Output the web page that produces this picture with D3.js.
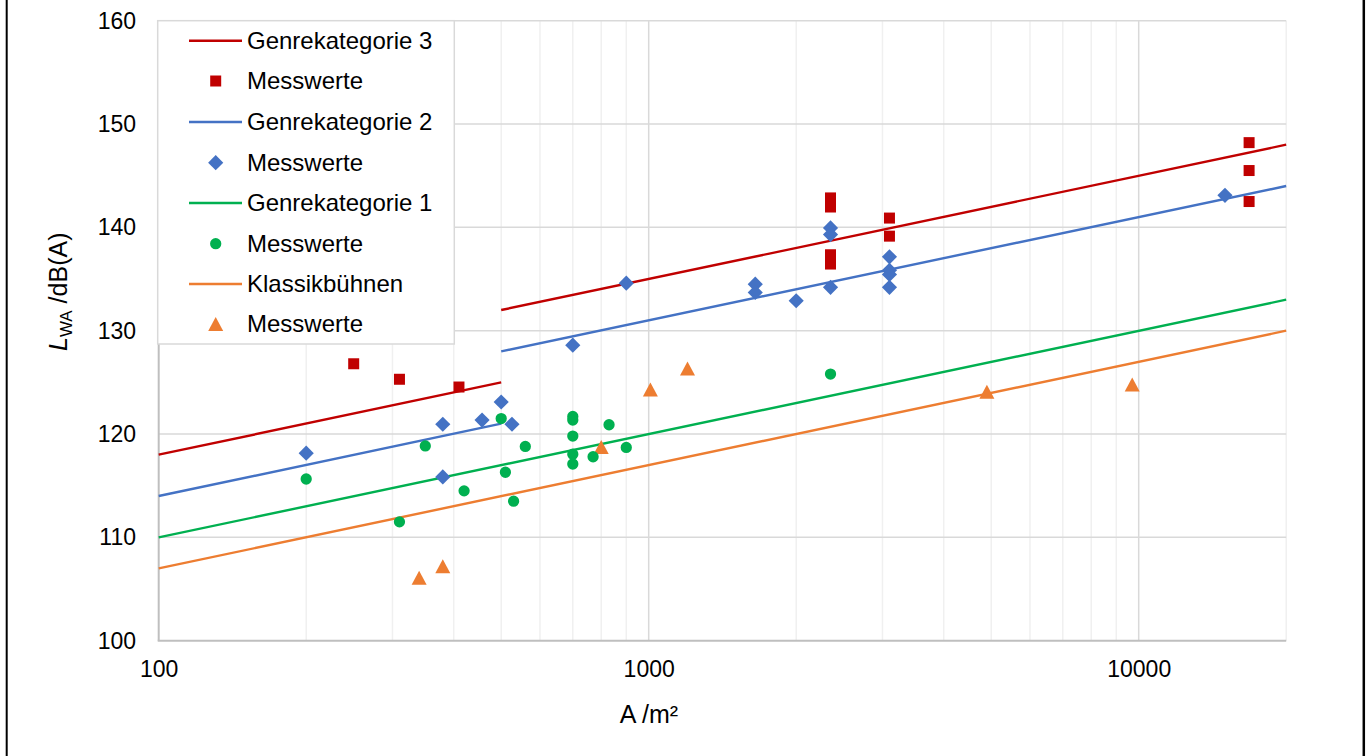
<!DOCTYPE html>
<html>
<head>
<meta charset="utf-8">
<script src="https://cdn.jsdelivr.net/npm/d3@7/dist/d3.min.js"></script>
<style>
  html, body { margin: 0; padding: 0; background: #fff; }
  svg { display: block; font-family: "Liberation Sans", Arial, sans-serif; }
</style>
</head>
<body>
<svg id="chart" width="1368" height="756"></svg>
<script>
// ---------- data ----------
const xTicks = [100, 1000, 10000];
const yTicks = [100, 110, 120, 130, 140, 150, 160];

// regression lines (segment endpoints [A, LWA])
const lineG3 = [[[100, 118], [500, 125]], [[500, 132], [20000, 148]]];
const lineG2 = [[[100, 114], [500, 121]], [[500, 128], [20000, 144]]];
const lineG1 = [[[100, 110], [20000, 133]]];
const lineKB = [[[100, 107], [20000, 130]]];

// measured values: area A (m²)
const g3A = [250, 310, 410, 2350, 2350, 2350, 2350, 3100, 3100, 16800, 16800, 16800];
const g3L = [126.8, 125.3, 124.55, 142.85, 141.97, 137.35, 136.45, 140.9, 139.15, 148.2, 145.5, 142.5];

const g2A = [200, 380, 380, 457, 500, 526, 700, 900, 1650, 1650, 2000, 2350, 2350, 2350, 3100, 3100, 3100, 3100, 15000];
const g2L = [118.15, 120.95, 115.85, 121.35, 123.1, 120.95, 128.6, 134.6, 134.5, 133.7, 132.9, 139.95, 139.3, 134.2, 137.15, 135.85, 135.45, 134.2, 143.1];

const g1A = [200, 310, 350, 420, 500, 510, 530, 560, 700, 700, 700, 700, 700, 770, 830, 900, 2350];
const g1L = [115.65, 111.5, 118.85, 114.5, 121.5, 116.3, 113.5, 118.8, 121.7, 121.35, 119.8, 118.05, 117.1, 117.8, 120.9, 118.7, 125.8];

const kbA = [340, 380, 800, 1008, 1200, 4900, 9700];
const kbL = [106.1, 107.2, 118.75, 124.3, 126.35, 124.1, 124.8];

const legendLabels = ["Genrekategorie 3", "Messwerte", "Genrekategorie 2", "Messwerte",
                      "Genrekategorie 1", "Messwerte", "Klassikbühnen", "Messwerte"];

// ---------- styles ----------
const C = { red: "#C00000", blue: "#4472C4", green: "#00B050", orange: "#ED7D31" };

const series = [
  { lines: lineG3, A: g3A, L: g3L, color: C.red, shape: "square" },
  { lines: lineG2, A: g2A, L: g2L, color: C.blue, shape: "diamond" },
  { lines: lineG1, A: g1A, L: g1L, color: C.green, shape: "circle" },
  { lines: lineKB, A: kbA, L: kbL, color: C.orange, shape: "triangle" }
];

const svg = d3.select("#chart");
const x = d3.scaleLog().domain([100, 20000]).range([158.7, 1286.2]);
const y = d3.scaleLinear().domain([100, 160]).range([640.7, 20.7]);

// outer border (left/right visible)
svg.append("line").attr("x1", 6.7).attr("x2", 6.7).attr("y1", 0).attr("y2", 756)
  .attr("stroke", "#000").attr("stroke-width", 2);
svg.append("line").attr("x1", 1363.8).attr("x2", 1363.8).attr("y1", 0).attr("y2", 756)
  .attr("stroke", "#000").attr("stroke-width", 2.5);

// minor vertical gridlines
const minor = [];
for (let d = 100; d < 20000; d *= 10) {
  for (let k = 2; k <= 9; k++) { const v = d * k; if (v <= 20000) minor.push(v); }
}
const grid = svg.append("g");
grid.selectAll("line.minor").data(minor).enter().append("line")
  .attr("x1", d => x(d)).attr("x2", d => x(d))
  .attr("y1", y(160)).attr("y2", y(100))
  .attr("stroke", "#f0f0f0").attr("stroke-width", 1.5);
grid.selectAll("line.majx").data([1000, 10000]).enter().append("line")
  .attr("x1", d => x(d)).attr("x2", d => x(d))
  .attr("y1", y(160)).attr("y2", y(100))
  .attr("stroke", "#d9d9d9").attr("stroke-width", 1.5);
grid.selectAll("line.majy").data(yTicks.filter(v => v > 100)).enter().append("line")
  .attr("x1", x(100)).attr("x2", x(20000))
  .attr("y1", d => y(d)).attr("y2", d => y(d))
  .attr("stroke", "#d9d9d9").attr("stroke-width", 1.5);

// axis lines
svg.append("line").attr("x1", x(100)).attr("x2", x(100)).attr("y1", y(160)).attr("y2", y(100))
  .attr("stroke", "#bfbfbf").attr("stroke-width", 2);
svg.append("line").attr("x1", x(100) - 1).attr("x2", x(20000)).attr("y1", y(100)).attr("y2", y(100))
  .attr("stroke", "#bfbfbf").attr("stroke-width", 2);

// axes text
const yAxis = d3.axisLeft(y).tickValues(yTicks).tickSize(0).tickPadding(22.7).tickFormat(d3.format("d"));
const gy = svg.append("g").attr("transform", `translate(${x(100)},0)`).call(yAxis);
gy.select(".domain").remove();
gy.selectAll("text").attr("font-size", 23).attr("fill", "#000").attr("font-family", "Liberation Sans, Arial, sans-serif");

const xAxis = d3.axisBottom(x).tickValues(xTicks).tickSize(0).tickPadding(20).tickFormat(d3.format("d"));
const gx = svg.append("g").attr("transform", `translate(0,${y(100)})`).call(xAxis);
gx.select(".domain").remove();
gx.selectAll("text").attr("font-size", 23).attr("fill", "#000").attr("font-family", "Liberation Sans, Arial, sans-serif");

// axis titles
svg.append("text").attr("x", 649).attr("y", 723).attr("text-anchor", "middle")
  .attr("font-size", 25).attr("fill", "#000").text("A /m²");

const yt = svg.append("text").attr("transform", "translate(67,351) rotate(-90)")
  .attr("text-anchor", "start").attr("font-size", 25).attr("fill", "#000");
yt.append("tspan").attr("font-style", "italic").text("L");
yt.append("tspan").attr("font-size", 17).attr("dy", 5).text("WA");
yt.append("tspan").attr("dy", -5).text(" /dB(A)");

// marker path generator
function markerPath(shape) {
  if (shape === "square") return d3.symbol(d3.symbolSquare, 121)();
  if (shape === "diamond") return d3.symbol(d3.symbolSquare, 115)();
  if (shape === "circle") return d3.symbol(d3.symbolCircle, 100)();
  return "M0,-7L7.5,7L-7.5,7Z";
}
function markerTransform(shape, px, py) {
  return shape === "diamond" ? `translate(${px},${py}) rotate(45)` : `translate(${px},${py})`;
}

// lines
const lineGen = d3.line().x(d => x(d[0])).y(d => y(d[1]));
const plot = svg.append("g");
series.slice().reverse().forEach(s => {
  s.lines.forEach(seg => {
    plot.append("path").attr("d", lineGen(seg)).attr("fill", "none")
      .attr("stroke", s.color).attr("stroke-width", 2.4);
  });
});
// markers
series.slice().reverse().forEach(s => {
  plot.selectAll(null).data(s.A.map((a, i) => [a, s.L[i]])).enter().append("path")
    .attr("d", markerPath(s.shape))
    .attr("transform", d => markerTransform(s.shape, x(d[0]), y(d[1])))
    .attr("fill", s.color);
});

// legend
const lg = svg.append("g");
lg.append("rect").attr("x", 157.7).attr("y", 20.7).attr("width", 296.6).attr("height", 323.3)
  .attr("fill", "#fff").attr("stroke", "#d9d9d9").attr("stroke-width", 1.5);
const rowY = [40.7, 81, 122, 162.7, 203, 243.7, 284, 324];
legendLabels.forEach((lab, i) => {
  const s = series[Math.floor(i / 2)];
  const ry = rowY[i];
  if (i % 2 === 0) {
    lg.append("line").attr("x1", 189).attr("x2", 242).attr("y1", ry).attr("y2", ry)
      .attr("stroke", s.color).attr("stroke-width", 2.4);
  } else {
    lg.append("path").attr("d", markerPath(s.shape))
      .attr("transform", markerTransform(s.shape, 215.7, ry)).attr("fill", s.color);
  }
  lg.append("text").attr("x", 247).attr("y", ry).attr("dy", "0.35em")
    .attr("font-size", 24).attr("fill", "#000").text(lab);
});
</script>
</body>
</html>
